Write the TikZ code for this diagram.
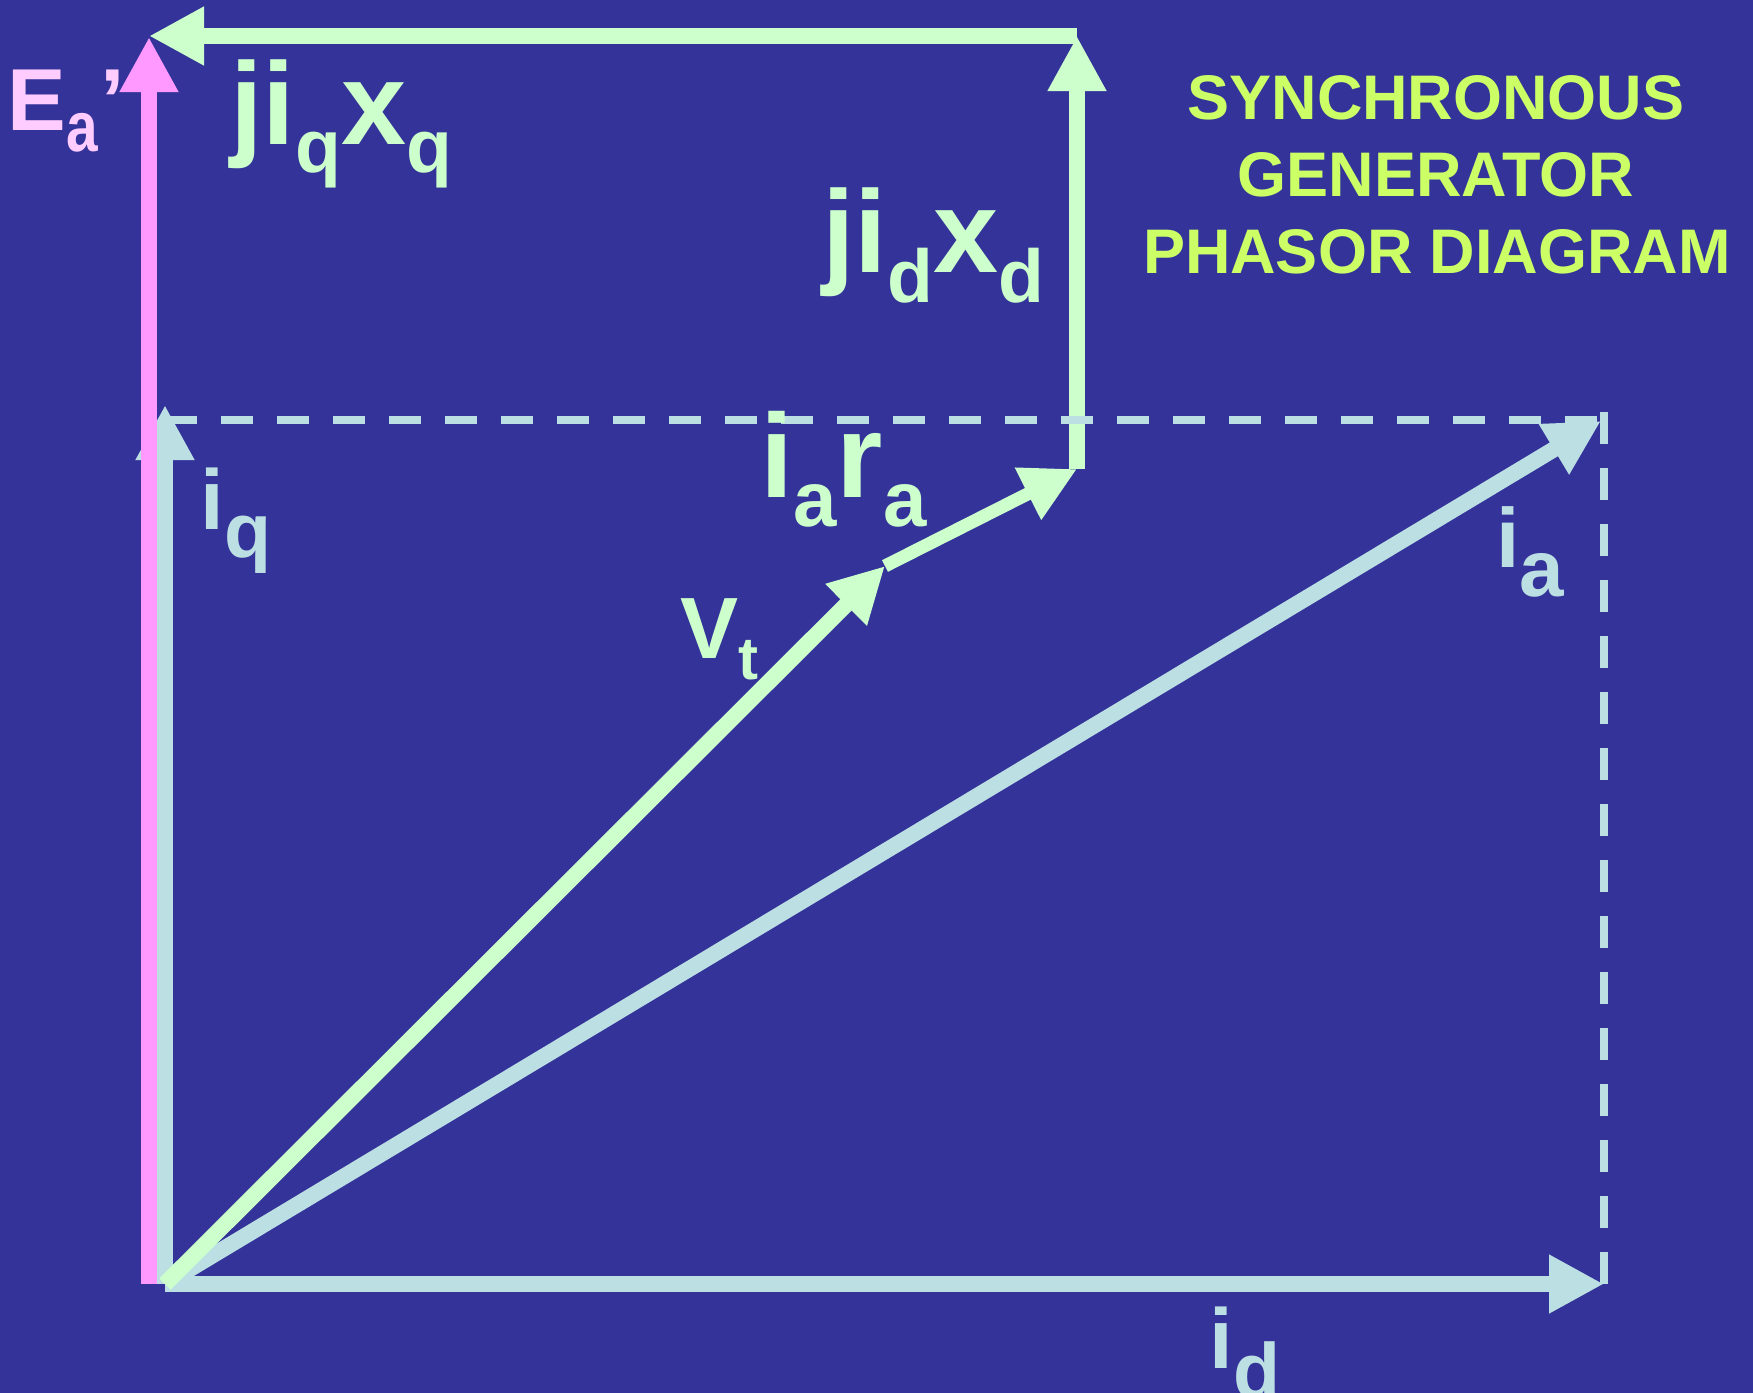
\documentclass[tikz,border=0pt]{standalone}
\usepackage{fontspec}
\setmainfont{Liberation Sans}
\usetikzlibrary{arrows.meta}
\definecolor{bg}{HTML}{333399}
\definecolor{lgreen}{HTML}{CCFFCC}
\definecolor{lblue}{HTML}{BBDFE2}
\definecolor{epink}{HTML}{FF99FF}
\definecolor{lpink}{HTML}{FFCCFF}
\definecolor{ttl}{HTML}{CCFF66}
\newcommand{\fs}[1]{\fontsize{#1}{#1}\selectfont}
\newcommand{\sbs}[3]{\raisebox{-#2}{\fs{#1}#3}}
\begin{document}
\begin{tikzpicture}[x=0.5pt,y=-0.5pt,
  phasor/.style={line width=8pt, -{Triangle[length=27.5pt,width=27.5pt]}},
  guide/.style={line width=4pt, dash pattern=on 16pt off 12pt, color=lblue},
  lbl/.style={inner sep=0pt, anchor=base west, font=\bfseries},
  ttlstyle/.style={inner sep=0pt, anchor=base, color=ttl, font={\bfseries\fs{31.5}}}]
\fill[bg] (0,0) rectangle (1753,1393);
\useasboundingbox (0,0) rectangle (1753,1393);
% key points
\coordinate (O) at (165,1284);
\coordinate (Op) at (149,1284);
\coordinate (Ep) at (149,37);
\coordinate (IQ) at (165,405);
\coordinate (ID) at (1604,1284);
\coordinate (IA) at (1601,421);
\coordinate (VT) at (885,566);
\coordinate (RA) at (1077,469);
\coordinate (XD) at (1077,36);
\coordinate (XQ) at (149,36);
\coordinate (DH0) at (165,420);
\coordinate (DH1) at (1604,420);
\coordinate (DV0) at (1604,412);
\coordinate (DV1) at (1604,1284);
% current phasors
\draw[phasor, lblue] (O) -- (ID);
\draw[phasor, lblue] (O) -- (IA);
\draw[phasor, lblue] (O) -- (IQ);
% internal emf
\draw[phasor, epink] (Op) -- (Ep);
% voltage phasors
\draw[phasor, lgreen] (O) -- (VT);
\draw[phasor, lgreen, line width=6.5pt] (VT) -- (RA);
\draw[phasor, lgreen] (RA) -- (XD);
\draw[phasor, lgreen] (XD) -- (XQ);
% projection guides
\draw[guide] (DH0) -- (DH1);
\draw[guide] (DV0) -- (DV1);
% labels
\node[lbl, color=lpink] (lE) at (7,130) {\fs{44}E\sbs{35.5}{10.5pt}{\scalebox{0.8}[1]{a}}\kern1.5pt’};
\node[lbl, color=lgreen] (lXq) at (230,144) {\fs{58.5}ji\sbs{37.5}{14.2pt}{q}x\sbs{37.5}{14.2pt}{q}};
\node[lbl, color=lgreen] (lXd) at (822,272) {\fs{58.5}ji\sbs{37.5}{15pt}{d}x\sbs{37.5}{15pt}{d}};
\node[lbl, color=lgreen] (lR) at (760,497) {\fs{59.5}i\sbs{39}{14.5pt}{a}r\sbs{39}{14.5pt}{a}};
\node[lbl, color=lgreen] (lV) at (680,658) {\fs{43.5}V\sbs{30}{10.5pt}{t}};
\node[lbl, color=lblue] (lIq) at (200,529) {\fs{42.5}i\sbs{38.5}{14pt}{q}};
\node[lbl, color=lblue] (lIa) at (1496,567) {\fs{42}i\sbs{40}{14.5pt}{a}};
\node[lbl, color=lblue] (lId) at (1209,1368) {\fs{42.5}i\sbs{38.5}{14.5pt}{d}};
% title
\node[ttlstyle] (t1) at (1436,119) {SYNCHRONOUS};
\node[ttlstyle] (t2) at (1436,196) {GENERATOR};
\node[ttlstyle] (t3) at (1437,273) {PHASOR DIAGRAM};
\end{tikzpicture}
\end{document}
